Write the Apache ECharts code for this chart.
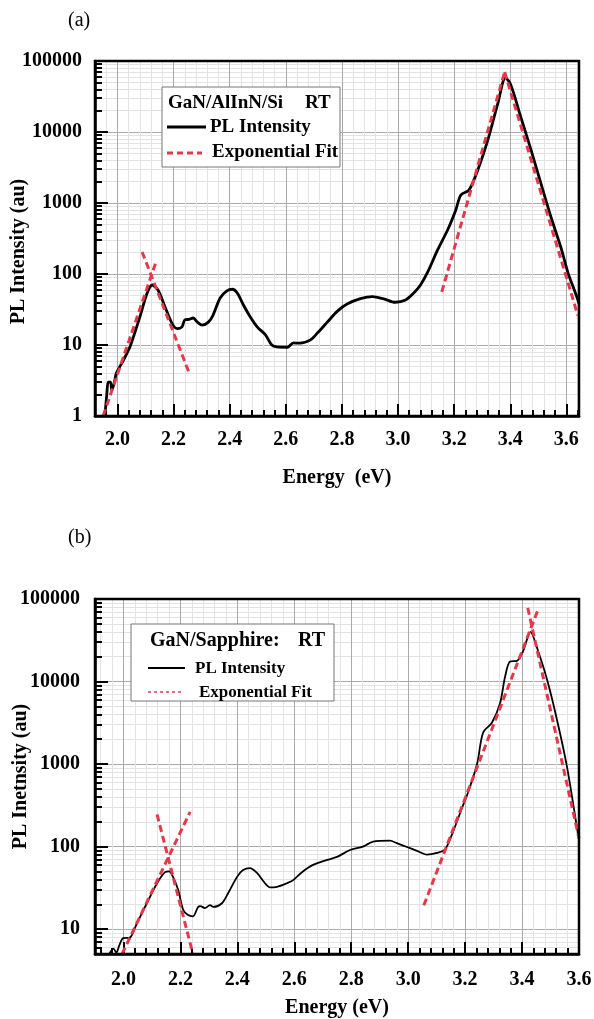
<!DOCTYPE html>
<html>
<head>
<meta charset="utf-8">
<script src="https://cdn.jsdelivr.net/npm/echarts@6/dist/echarts.min.js"></script>
<style>
html, body { margin: 0; padding: 0; background: #fff; }
#main { width: 594px; height: 1019px; }
</style>
</head>
<body>
<div id="main"></div>
<script>
// (a) GaN/AlInN/Si, RT
var energyA = [1.955, 1.962, 1.967, 1.975, 1.98, 1.99, 1.996, 2.021, 2.045, 2.08, 2.106, 2.124, 2.145, 2.17, 2.195, 2.213,
  2.23, 2.24, 2.255, 2.27, 2.285, 2.302, 2.324, 2.34, 2.366, 2.39, 2.41, 2.427, 2.45, 2.473, 2.498, 2.527, 2.55, 2.57,
  2.606, 2.627, 2.65, 2.688, 2.713, 2.748, 2.784, 2.82, 2.866, 2.909, 2.949, 2.99, 3.027, 3.056, 3.08, 3.106, 3.141,
  3.177, 3.206, 3.224, 3.253, 3.284, 3.32, 3.356, 3.383, 3.402, 3.438, 3.474, 3.509, 3.545, 3.58, 3.606, 3.624, 3.641, 3.645];
var intensityA = [1, 2.0, 3.0, 3.0, 2.3, 3.1, 4.0, 6.1, 9.5, 25, 54, 70, 59, 34, 20, 17,
  18, 22.5, 23, 24, 21, 19, 21, 26, 46, 58, 61, 54, 36, 25, 18, 14, 10, 9.4,
  9.3, 10.7, 10.6, 11.8, 14.8, 21, 30, 38, 45, 48, 44.6, 40, 43, 54, 70, 107, 218,
  420, 800, 1300, 1520, 2900, 7700, 25500, 58000, 46000, 16000, 5600, 1900, 635, 240, 103, 66, 43, 38];
var fitA = [
  [[1.949, 1], [2.138, 150]],
  [[2.088, 204], [2.256, 4.0]],
  [[3.156, 56], [3.38, 70000]],
  [[3.38, 70000], [3.641, 26]]
];

// (b) GaN/Sapphire, RT
var energyB = [1.95, 1.965, 1.975, 1.985, 1.999, 2.022, 2.047, 2.082, 2.118, 2.146, 2.16, 2.174, 2.192, 2.21, 2.227, 2.244,
  2.262, 2.27, 2.286, 2.304, 2.315, 2.346, 2.367, 2.399, 2.42, 2.444, 2.469, 2.497, 2.515, 2.539, 2.574, 2.595, 2.627,
  2.666, 2.715, 2.75, 2.796, 2.841, 2.877, 2.936, 2.96, 2.996, 3.031, 3.066, 3.101, 3.13, 3.157, 3.19, 3.21, 3.242,
  3.263, 3.294, 3.323, 3.34, 3.358, 3.382, 3.403, 3.43, 3.452, 3.488, 3.523, 3.558, 3.596, 3.6];
var intensityB = [5.0, 5.8, 5.2, 6.3, 7.8, 7.9, 11.7, 20.6, 36, 49, 50, 43, 30, 17, 14.8, 14.3,
  18.6, 19, 18, 19.5, 18.6, 20.6, 27, 43, 52, 55, 48, 36, 32, 32.5, 36, 39, 49,
  60, 69, 75, 91, 100, 115, 118, 110, 99, 89, 80, 84, 93, 150, 300, 450, 1000,
  2400, 3170, 5500, 11300, 17500, 17800, 23000, 40000, 26000, 10500, 3400, 920, 145, 120];
var fitB = [
  [[1.995, 5], [2.234, 263]],
  [[2.118, 245], [2.244, 5]],
  [[3.055, 19.5], [3.456, 74000]],
  [[3.42, 78000], [3.6, 126]]
];

// tick labels
var majorX = [2.0, 2.2, 2.4, 2.6, 2.8, 3.0, 3.2, 3.4, 3.6];

var FONT = '"Liberation Serif", "Times New Roman", serif';
var RED = '#e3394a';

function steps(start, end, step) {
  var out = [];
  var n = Math.round((end - start) / step);
  for (var i = 0; i <= n; i++) out.push(+(start + i * step).toFixed(3));
  return out;
}

function minorLog(lo, hi) {
  var out = [];
  for (var d = 0; d < 5; d++) {
    for (var k = 2; k <= 9; k++) {
      var v = k * Math.pow(10, d);
      if (v > lo && v < hi) out.push(Math.log10(v));
    }
  }
  return out;
}

function pairs(xs, ys) {
  return xs.map(function (x, i) { return [x, ys[i]]; });
}

function xAxes(gi, min, max, minors, name, nameGap, margin) {
  return [{
    gridIndex: gi, type: 'value', min: min, max: max, position: 'bottom',
    axisLine: { show: false, onZero: false },
    axisTick: { show: true, inside: true, length: 6, customValues: minors, lineStyle: { color: '#000', width: 2 } },
    axisLabel: { show: false },
    splitLine: { show: true, lineStyle: { color: '#e3e3e3', width: 1 } }
  }, {
    gridIndex: gi, type: 'value', min: min, max: max, position: 'bottom',
    name: name, nameLocation: 'middle', nameGap: nameGap, nameMoveOverlap: false,
    nameTextStyle: { fontFamily: FONT, fontWeight: 'bold', fontSize: 20, color: '#000' },
    axisLine: { onZero: false, lineStyle: { color: '#000', width: 2.5 } },
    axisTick: { show: true, inside: true, length: 12, customValues: majorX, lineStyle: { color: '#000', width: 2 } },
    axisLabel: {
      customValues: majorX, margin: margin, fontFamily: FONT, fontWeight: 'bold', fontSize: 20, color: '#000',
      formatter: function (v) { return v.toFixed(1); }
    },
    splitLine: { show: true, lineStyle: { color: '#a9a9a9', width: 1 } }
  }];
}

function yAxes(gi, min, name, nameGap, margin, pad) {
  return [{
    gridIndex: gi, type: 'value', min: Math.log10(min), max: 5, position: 'left',
    axisLine: { show: false, onZero: false },
    axisTick: { show: true, inside: true, length: 7, customValues: minorLog(min, 100000), lineStyle: { color: '#000', width: 2 } },
    axisLabel: { show: false },
    splitLine: { show: true, lineStyle: { color: '#e3e3e3', width: 1 } }
  }, {
    gridIndex: gi, type: 'log', logBase: 10, min: min, max: 100000, position: 'left',
    name: name, nameLocation: 'middle', nameGap: nameGap, nameRotate: 90, nameMoveOverlap: false,
    nameTextStyle: { fontFamily: FONT, fontWeight: 'bold', fontSize: 20, color: '#000', padding: pad },
    axisLine: { onZero: false, lineStyle: { color: '#000', width: 2.5 } },
    axisTick: { show: true, inside: true, length: 13, lineStyle: { color: '#000', width: 2 } },
    axisLabel: {
      margin: margin, fontFamily: FONT, fontWeight: 'bold', fontSize: 20, color: '#000',
      formatter: function (v) {
        var l = Math.log10(v);
        return Math.abs(l - Math.round(l)) < 1e-6 ? String(Math.round(v)) : '';
      }
    },
    splitLine: { show: true, lineStyle: { color: '#a9a9a9', width: 1 } }
  }];
}

function curve(data, xi, yi, width) {
  return {
    type: 'line', xAxisIndex: xi, yAxisIndex: yi, data: data,
    showSymbol: false, symbol: 'none', smooth: 0.3, z: 2,
    lineStyle: { color: '#000', width: width }
  };
}

function fit(data, xi, yi) {
  return {
    type: 'line', xAxisIndex: xi, yAxisIndex: yi, data: data,
    showSymbol: false, symbol: 'none', z: 3,
    lineStyle: { color: RED, width: 3, type: [7, 4] }
  };
}

var chart = echarts.init(document.getElementById('main'), null, { renderer: 'canvas' });

var series = [curve(pairs(energyA, intensityA), 1, 1, 2.8), curve(pairs(energyB, intensityB), 3, 3, 1.8)];
fitA.forEach(function (d) { series.push(fit(d, 1, 1)); });
fitB.forEach(function (d) { series.push(fit(d, 3, 3)); });

function txt(x, y, s, size, bold) {
  return {
    type: 'text', x: x, y: y, z: 20,
    style: { text: s, fontFamily: FONT, fontSize: size, fontWeight: bold ? 'bold' : 'normal', fill: '#000', verticalAlign: 'middle' }
  };
}

var option = {
  animation: false,
  backgroundColor: '#fff',
  grid: [
    { left: 95, top: 61, width: 484, height: 355, outerBoundsMode: 'none', show: true, borderColor: '#000', borderWidth: 2.5, backgroundColor: 'transparent', z: 4 },
    { left: 95, top: 599, width: 484, height: 355, outerBoundsMode: 'none', show: true, borderColor: '#000', borderWidth: 2.5, backgroundColor: 'transparent', z: 4 }
  ],
  xAxis: xAxes(0, 1.92, 3.645, steps(1.92, 3.64, 0.04), 'Energy  (eV)', 52, 14)
    .concat(xAxes(1, 1.9, 3.6, steps(1.92, 3.6, 0.04), 'Energy (eV)', 44, 16)),
  yAxis: yAxes(0, 1, 'PL Intensity (au)', 66, 13, [0, 26, 0, 0])
    .concat(yAxes(1, 5, 'PL Inetnsity (au)', 64, 15, [0, 0, 0, 0])),
  series: series,
  graphic: [
    txt(68, 21, '(a)', 20, false),
    txt(68, 538, '(b)', 20, false),
    // legend (a)
    { type: 'rect', z: 19, shape: { x: 162, y: 87, width: 178, height: 80 }, style: { fill: '#fff', stroke: '#777', lineWidth: 1 } },
    txt(168, 103, 'GaN/AlInN/Si', 19, true),
    txt(305, 103, 'RT', 19, true),
    { type: 'line', z: 20, shape: { x1: 167, y1: 127, x2: 206, y2: 127 }, style: { stroke: '#000', lineWidth: 3 } },
    txt(210, 127, 'PL Intensity', 19, true),
    { type: 'line', z: 20, shape: { x1: 167, y1: 153, x2: 202, y2: 153 }, style: { stroke: RED, lineWidth: 3, lineDash: [6, 4] } },
    txt(212, 152, 'Exponential Fit', 19, true),
    // legend (b)
    { type: 'rect', z: 19, shape: { x: 131, y: 624, width: 203, height: 77 }, style: { fill: '#fff', stroke: '#777', lineWidth: 1 } },
    txt(150, 641, 'GaN/Sapphire:', 20, true),
    txt(298, 641, 'RT', 20, true),
    { type: 'line', z: 20, shape: { x1: 148, y1: 668, x2: 185, y2: 668 }, style: { stroke: '#000', lineWidth: 2 } },
    txt(195, 669, 'PL Intensity', 17, true),
    { type: 'line', z: 20, shape: { x1: 148, y1: 692, x2: 182, y2: 692 }, style: { stroke: RED, lineWidth: 1.5, lineDash: [3, 3] } },
    txt(199, 693, 'Exponential Fit', 17, true)
  ]
};

chart.setOption(option);
</script>
</body>
</html>
